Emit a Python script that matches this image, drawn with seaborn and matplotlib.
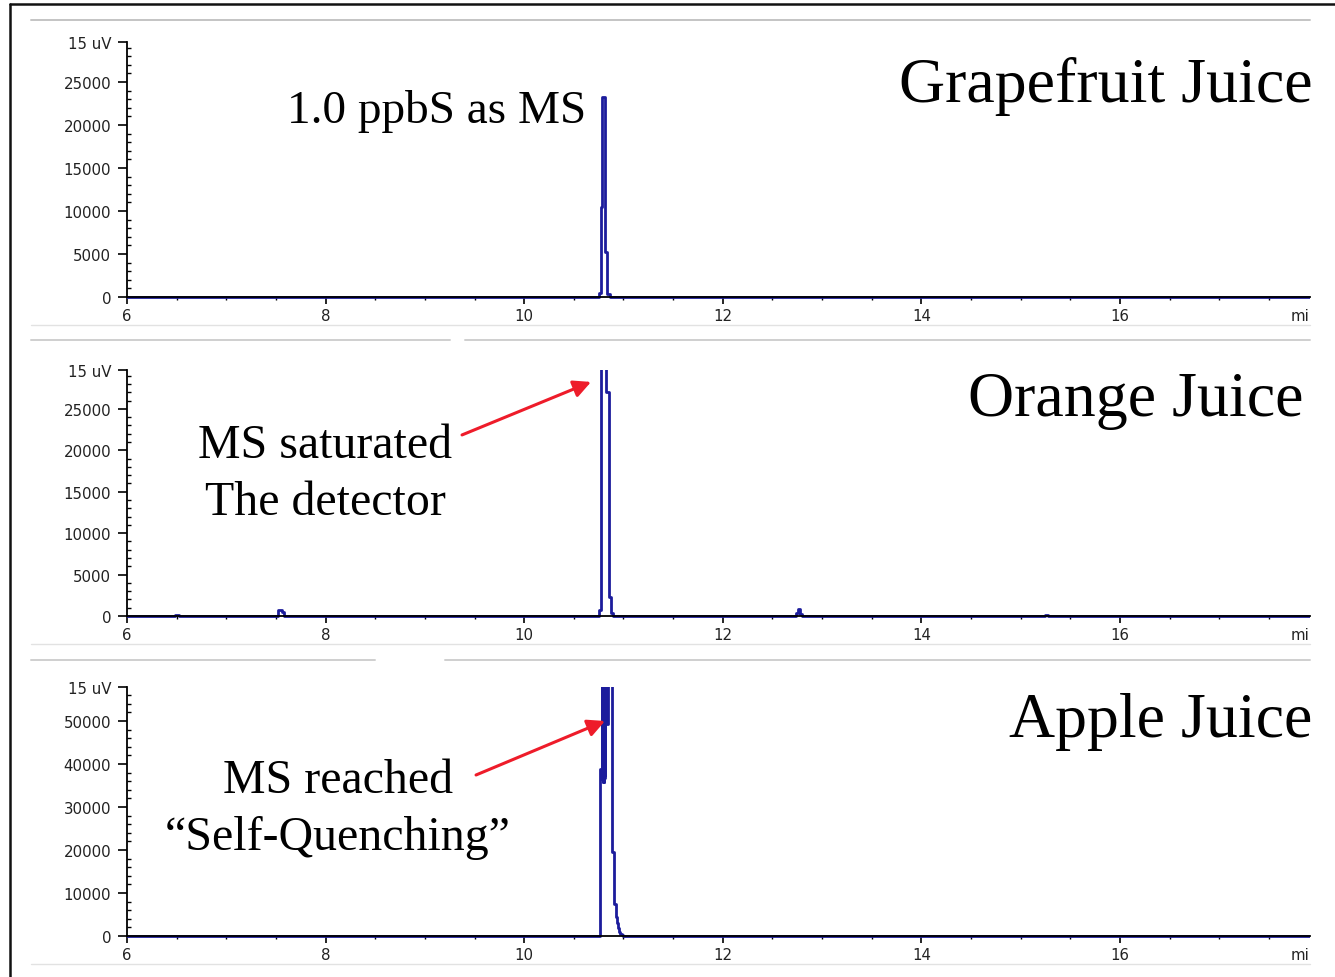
import numpy as np
import pandas as pd
import seaborn as sns
import matplotlib.pyplot as plt
from matplotlib.lines import Line2D
from matplotlib.ticker import MultipleLocator, FixedLocator, FixedFormatter

# ---------------------------------------------------------------------------
# Chromatogram traces (retention time in min, detector response), step data
# ---------------------------------------------------------------------------
grapefruit_time = [6.0, 10.755, 10.778, 10.787, 10.818, 10.838, 10.860, 17.913]
grapefruit_resp = [0, 500, 10500, 23200, 5200, 400, 0, 0]

orange_time = [6.0, 6.48, 6.52, 7.52, 7.56, 7.58, 10.755, 10.778, 10.828,
               10.854, 10.872, 10.890, 12.74, 12.76, 12.78, 12.80, 15.24,
               15.27, 17.913]
orange_resp = [0, 150, 0, 700, 500, 0, 700, 60000, 27000,
               2300, 350, 0, 400, 900, 300, 0, 150,
               0, 0]

apple_time = [6.0, 10.763, 10.780, 10.783, 10.786, 10.789, 10.792, 10.795,
              10.798, 10.801, 10.804, 10.807, 10.810, 10.813, 10.816, 10.820,
              10.840, 10.880, 10.906, 10.924, 10.932, 10.940, 10.950, 10.962,
              10.980, 11.000, 17.913]
apple_resp = [0, 38800, 70000, 36500, 70000, 35800, 70000, 36200,
              70000, 35700, 70000, 36800, 70000, 37500, 70000, 49300,
              70000, 19500, 7400, 4400, 3000, 1800, 1000, 500,
              200, 0, 0]

panel_titles = ["Grapefruit Juice", "Orange Juice", "Apple Juice"]
y_top = [29650, 29700, 57900]
y_major_step = [5000, 5000, 10000]
y_minor_step = [1000, 1000, 2000]
top_tick_label = "15 uV"
x_tick_values = [6, 8, 10, 12, 14, 16]
x_unit_label = "mi"

# ---------------------------------------------------------------------------
W, H = 1335, 978
sns.set_theme(style="white")
plt.rcParams["font.family"] = ["DejaVu Sans"]

fig = plt.figure(figsize=(W / 100, H / 100), dpi=100)
fig.patch.set_facecolor("white")


def fx(x):
    return x / W


def fy(y):
    return 1 - y / H


trace_color = "#1c1c9c"
red = "#ee1c2a"
serif = ["Liberation Serif", "DejaVu Serif"]
tick_size = 10.8

# pixel rows of the zero line and top of each panel, and horizontal extent
zero_px = [298, 617, 937]
top_px = [43, 371, 688]
left_px, right_px = 127, 1310
x_min = 6.0
x_max = 6.0 + (right_px - left_px) / 99.3

traces = [(grapefruit_time, grapefruit_resp),
          (orange_time, orange_resp),
          (apple_time, apple_resp)]

axes = []
for i, (t, r) in enumerate(traces):
    top = y_top[i]
    pad = 0.012 * top
    span_px = zero_px[i] - top_px[i]
    bottom_px = zero_px[i] + pad / top * span_px
    ax = fig.add_axes([fx(left_px), fy(bottom_px), fx(right_px - left_px),
                       (bottom_px - top_px[i]) / H])
    ax.set_facecolor("none")
    df = pd.DataFrame({"time": t, "response": r})
    sns.lineplot(data=df, x="time", y="response", ax=ax, color=trace_color,
                 lw=2.0, drawstyle="steps-post", estimator=None, sort=False,
                 legend=False)
    ax.set_xlim(x_min, x_max)
    ax.set_ylim(-pad, top)
    ax.set_xlabel("")
    ax.set_ylabel("")

    for s in ("top", "right"):
        ax.spines[s].set_visible(False)
    ax.spines["bottom"].set_position(("data", 0))
    ax.spines["left"].set_bounds(0, top)
    for s in ("left", "bottom"):
        ax.spines[s].set_color("black")
        ax.spines[s].set_linewidth(1.3)

    majors = list(np.arange(0, top - y_major_step[i] * 0.5, y_major_step[i]))
    labels = [str(int(v)) for v in majors]
    majors.append(top)
    labels.append(top_tick_label)
    ax.yaxis.set_major_locator(FixedLocator(majors))
    ax.yaxis.set_major_formatter(FixedFormatter(labels))
    ax.yaxis.set_minor_locator(MultipleLocator(y_minor_step[i]))
    ax.xaxis.set_major_locator(FixedLocator(x_tick_values))
    ax.xaxis.set_minor_locator(MultipleLocator(0.5))

    ax.tick_params(axis="y", which="major", direction="out", length=6.5,
                   width=1.2, pad=5.0, labelsize=tick_size, colors="black",
                   labelcolor="#222222", left=True)
    ax.tick_params(axis="y", which="minor", direction="in", length=3,
                   width=1.0, colors="black", left=True)
    ax.tick_params(axis="x", which="major", direction="out", length=5,
                   width=1.2, pad=3.0, labelsize=tick_size, colors="black",
                   labelcolor="#222222", bottom=True)
    ax.tick_params(axis="x", which="minor", direction="out", length=2.5,
                   width=1.0, colors="black", bottom=True)
    ax.annotate(x_unit_label, xy=(17.81, 0), xycoords="data",
                xytext=(0, -13.2), textcoords="offset points",
                ha="center", va="center", fontsize=tick_size,
                color="#222222", annotation_clip=False)
    axes.append(ax)

# Panel titles
title_pos = [(1313, 102), (1303, 416), (1312, 737)]
for (x, y), title in zip(title_pos, panel_titles):
    fig.text(fx(x), fy(y), title, ha="right", va="baseline",
             fontsize=46, family=serif, color="black")

# Annotations
fig.text(fx(287), fy(123), "1.0 ppbS as MS", ha="left", va="baseline",
         fontsize=34, family=serif, color="black")
fig.text(fx(325), fy(458), "MS saturated", ha="center", va="baseline",
         fontsize=34.5, family=serif, color="black")
fig.text(fx(325), fy(515), "The detector", ha="center", va="baseline",
         fontsize=34.5, family=serif, color="black")
fig.text(fx(338), fy(793), "MS reached", ha="center", va="baseline",
         fontsize=34.5, family=serif, color="black")
fig.text(fx(338), fy(850), "\u201cSelf-Quenching\u201d", ha="center",
         va="baseline", fontsize=34.5, family=serif, color="black")

arrow_kw = dict(arrowstyle="-|>", color=red, lw=2.2, mutation_scale=26,
                shrinkA=0, shrinkB=0)
axes[1].annotate("", xy=(10.673, 28260), xytext=(9.374, 21860),
                 arrowprops=arrow_kw, annotation_clip=False)
axes[2].annotate("", xy=(10.814, 50000), xytext=(9.515, 37440),
                 arrowprops=arrow_kw, annotation_clip=False)

# Panel separators
sep = [(21, 31, 1310, "#c4c4c4", 1.4),
       (326, 31, 1310, "#e2e2e2", 1.0),
       (341, 31, 450, "#cfcfcf", 1.4),
       (341, 465, 1310, "#cfcfcf", 1.4),
       (645, 31, 1310, "#e2e2e2", 1.0),
       (661, 31, 375, "#cfcfcf", 1.4),
       (661, 445, 1310, "#cfcfcf", 1.4),
       (965, 31, 1310, "#e2e2e2", 1.0)]
for y, x0, x1, c, lw in sep:
    fig.add_artist(Line2D([fx(x0), fx(x1)], [fy(y), fy(y)], color=c, lw=lw,
                          transform=fig.transFigure))

# Outer frame (left and top edges)
fig.add_artist(Line2D([fx(10), fx(10)], [fy(5), fy(H + 5)], color="#111111",
                      lw=1.8, transform=fig.transFigure))
fig.add_artist(Line2D([fx(10), fx(W + 5)], [fy(5), fy(5)], color="#111111",
                      lw=1.8, transform=fig.transFigure))

fig.savefig("out.png", dpi=100, facecolor="white")
